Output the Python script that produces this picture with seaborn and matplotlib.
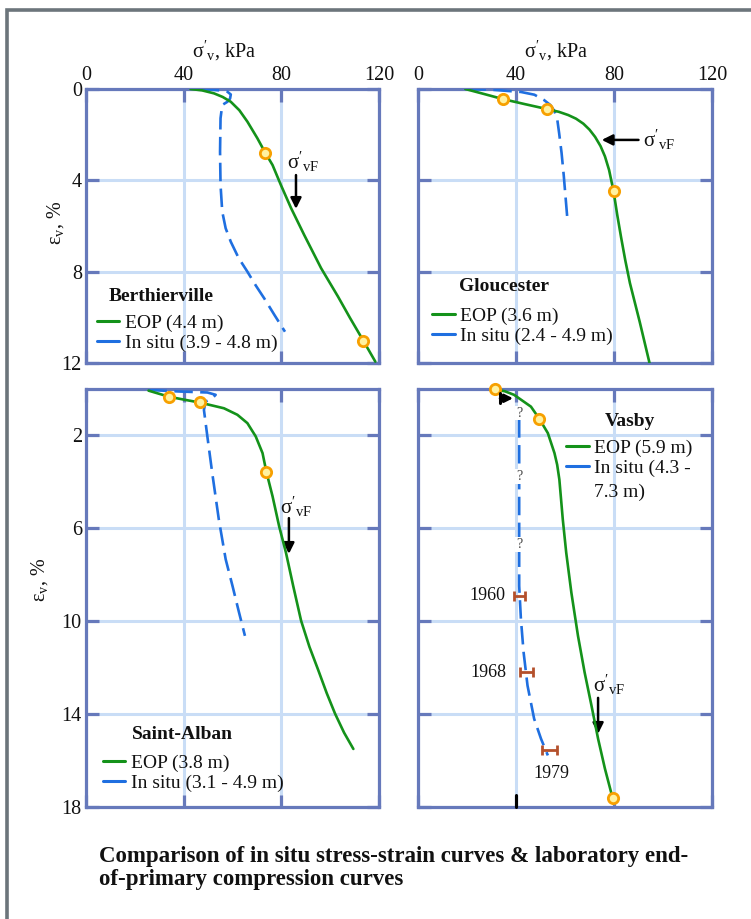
import numpy as np
import pandas as pd
import matplotlib
matplotlib.use("Agg")
import matplotlib.pyplot as plt
import seaborn as sns
from matplotlib.lines import Line2D
from matplotlib.patches import Rectangle

# ---------------- data ----------------
# Berthierville
bert_eop_x = [42.8, 47.5, 52.4, 56, 59.3, 62.8, 66.1, 70.2, 73.4, 76.4, 79.8, 84.0, 89.4, 96.3, 103.2, 108.2, 113.4, 118.5]
bert_eop_y = [0.0, 0.06, 0.19, 0.35, 0.56, 0.93, 1.43, 2.16, 2.79, 3.33, 4.2, 5.22, 6.4, 7.85, 9.09, 10.04, 10.99, 11.94]
bert_eop_mk_x = [73.4, 113.3]
bert_eop_mk_y = [2.79, 11.05]
bert_ins_x = [47.0, 52.3, 55.8, 57.9, 59.3, 59.0, 57.9, 55.8, 55.1, 54.9, 55.1, 55.8, 57.2, 59.3, 62.5, 66.1, 69.5, 73.0, 77.2, 81.5]
bert_ins_y = [0.0, 0.04, 0.07, 0.12, 0.24, 0.42, 0.56, 0.7, 1.28, 2.75, 4.2, 5.37, 6.1, 6.69, 7.4, 8.0, 8.6, 9.17, 9.9, 10.63]

# Gloucester
glo_eop_x = [19.3, 27, 34.6, 43.5, 52.7, 57.5, 61.3, 64.5, 67.5, 70, 72.3, 74.5, 76.3, 78, 79.8, 81.3, 82.9, 84.6, 86.5, 88.5, 90.5, 92.5, 94.5]
glo_eop_y = [0.0, 0.22, 0.44, 0.66, 0.88, 1.0, 1.14, 1.3, 1.52, 1.78, 2.1, 2.5, 2.95, 3.55, 4.47, 5.5, 6.5, 7.5, 8.5, 9.35, 10.2, 11.1, 12.0]
glo_eop_mk_x = [34.6, 52.7, 79.8]
glo_eop_mk_y = [0.44, 0.88, 4.47]
glo_ins_x = [20.2, 31, 42, 47.5, 51.4, 54, 55.6, 56.8, 57.6, 58.6, 59.5, 60.9]
glo_ins_y = [0.0, 0.04, 0.13, 0.25, 0.48, 0.7, 0.95, 1.3, 1.93, 2.8, 3.8, 5.6]

# Saint-Alban
sta_eop_x = [25.6, 33.9, 40.2, 46.5, 56.5, 62.0, 66.1, 69.5, 72.3, 73.9, 76.4, 79.1, 81.9, 84.9, 88.1, 91.5, 95.1, 98.6, 102.0, 105.7, 109.5]
sta_eop_y = [0.07, 0.33, 0.46, 0.58, 0.83, 1.11, 1.47, 2.04, 2.76, 3.58, 4.62, 5.91, 7.05, 8.5, 9.98, 11.1, 12.1, 13.1, 13.98, 14.8, 15.5]
sta_eop_mk_x = [33.9, 46.5, 73.9]
sta_eop_mk_y = [0.33, 0.58, 3.58]
sta_ins_x = [25.6, 38.7, 49.7, 53.1, 51.7, 49.0, 48.3, 49.7, 51.7, 54.4, 57.2, 60.0, 62.5, 65.1]
sta_ins_y = [0.04, 0.11, 0.15, 0.25, 0.4, 0.54, 0.9, 2.04, 3.62, 5.62, 7.33, 8.48, 9.55, 10.63]

# Vasby
vas_eop_x = [31.3, 35.5, 39.2, 46.1, 49.5, 53.0, 55.7, 56.8, 57.7, 58.4, 59.1, 60.5, 62.6, 65.3, 68.0, 70.8, 73.5, 76.3, 79.4]
vas_eop_y = [0.01, 0.1, 0.25, 0.76, 1.28, 1.9, 2.76, 3.26, 3.9, 4.76, 5.62, 7.05, 8.77, 10.63, 12.2, 13.63, 15.06, 16.35, 17.6]
vas_eop_mk_x = [31.3, 49.5, 79.4]
vas_eop_mk_y = [0.01, 1.28, 17.6]
vas_ins_x = [41.3, 41.3, 41.3, 41.3, 42.0, 43.1, 44.7, 47.4, 50.2, 53.0]
vas_ins_y = [1.3, 4.0, 7.0, 8.48, 9.9, 11.34, 12.77, 14.2, 15.06, 15.78]
vas_years = ["1960", "1968", "1979"]
vas_year_x = [41.5, 44.2, 53.7]
vas_year_y = [8.91, 12.2, 15.53]
vas_year_err = [2.3, 2.55, 3.1]
vas_q_y = [1.04, 3.76, 6.69]

top_xticks = [0, 40, 80, 120]
top_yticks = [0, 4, 8, 12]
bot_yticks = [2, 6, 10, 14, 18]

# ---------------- style ----------------
sns.set_theme(style="white")
plt.rcParams["font.family"] = ["Liberation Serif", "DejaVu Serif"]
plt.rcParams["mathtext.fontset"] = "custom"
plt.rcParams["mathtext.rm"] = "Liberation Serif"
plt.rcParams["mathtext.it"] = "Liberation Serif:italic"
plt.rcParams["mathtext.bf"] = "Liberation Serif:bold"

GREEN = "#14921a"
BLUE = "#1f6fe0"
SPINE = "#6679bb"
GRID = "#c9ddf6"
ORANGE = "#f7a000"
FILL = "#fff2a0"
BROWN = "#b4502c"
TXT = "#111111"
FS = 14

W, H = 751, 919
fig = plt.figure(figsize=(W / 100, H / 100), dpi=100)


def px_axes(l, t, r, b):
    return fig.add_axes([l / W, 1 - b / H, (r - l) / W, (b - t) / H])


ax_tl = px_axes(86, 89, 379, 363)
ax_tr = px_axes(418, 89, 712, 363)
ax_bl = px_axes(86, 389, 379, 807)
ax_br = px_axes(418, 389, 712, 807)

sigma_lbl = r"$\mathregular{σ'_v}$, kPa"
eps_lbl = r"$\mathregular{ε_v}$, %"
vf_lbl = r"$\mathregular{σ'_{vF}}$"


def style_axes(ax, ymax, yticks, top, left, ylab_x=None, ylab_y=0.5):
    ax.set_xlim(0, 120)
    ax.set_ylim(ymax, 0)
    ax.set_xticks(top_xticks)
    ax.set_yticks(yticks)
    ax.set_axisbelow(True)
    ax.grid(True, color=GRID, lw=2.2)
    for s in ax.spines.values():
        s.set_visible(True)
        s.set_color(SPINE)
        s.set_linewidth(2.3)
    ax.tick_params(axis="both", which="both", direction="in", length=9, width=2.3,
                   color=SPINE, top=True, bottom=True, left=True, right=True,
                   labeltop=top, labelbottom=False, labelleft=left, labelright=False,
                   labelsize=FS + 0.5, pad=3, labelcolor=TXT)
    if top:
        ax.xaxis.set_label_position("top")
        ax.set_xlabel(sigma_lbl, fontsize=FS + 0.5, color=TXT)
        ax.xaxis.set_label_coords(0.47, 1.0 + 32 / 274)
    else:
        ax.set_xlabel("")
    if left:
        ax.set_ylabel(eps_lbl, fontsize=FS + 0.5, color=TXT)
        ax.yaxis.set_label_coords(ylab_x, ylab_y)
    else:
        ax.set_ylabel("")


def curves(ax, ex, ey, mx, my, ix, iy):
    sns.lineplot(x=ix, y=iy, sort=False, estimator=None, ax=ax, color=BLUE, lw=1.9,
                 linestyle=(0, (7, 2.8)), zorder=3)
    sns.lineplot(x=ex, y=ey, sort=False, estimator=None, ax=ax, color=GREEN, lw=1.9, zorder=4)
    sns.scatterplot(x=mx, y=my, ax=ax, s=55, color=FILL, edgecolor=ORANGE, linewidth=2.0,
                    zorder=6, clip_on=False)


def legend(ax, title, tx, ty, lx, ly, eop, insitu):
    ax.text(tx, ty, title, fontsize=FS, fontweight="bold", ha="left", va="center", color=TXT)
    hs = [Line2D([], [], color=GREEN, lw=2.2), Line2D([], [], color=BLUE, lw=2.2)]
    lg = ax.legend(hs, [eop, insitu], loc="center left", bbox_to_anchor=(lx, ly),
                   bbox_transform=ax.transData, frameon=False, fontsize=FS,
                   handlelength=1.15, handletextpad=0.3, labelspacing=0.12,
                   borderpad=0, borderaxespad=0)
    for t in lg.get_texts():
        t.set_color(TXT)


def vf_arrow(ax, tx, ty, x0, y0, x1, y1):
    ax.text(tx, ty, vf_lbl, fontsize=FS + 1, ha="left", va="center", color=TXT)
    ax.annotate("", xy=(x1, y1), xytext=(x0, y0),
                arrowprops=dict(arrowstyle="-|>", color="black", lw=1.8, mutation_scale=16,
                                shrinkA=0, shrinkB=0))


# Top-left: Berthierville
style_axes(ax_tl, 12, top_yticks, True, True, ylab_x=-20 / 293, ylab_y=1 - (223 - 89) / 274)
curves(ax_tl, bert_eop_x, bert_eop_y, bert_eop_mk_x, bert_eop_mk_y, bert_ins_x, bert_ins_y)
legend(ax_tl, "Berthierville", 9.1, 9.07, 4.5, 10.7, "EOP (4.4 m)", "In situ (3.9 - 4.8 m)")
vf_arrow(ax_tl, 82.3, 3.2, 86.0, 3.77, 86.0, 5.25)

# Top-right: Gloucester
style_axes(ax_tr, 12, top_yticks, True, False)
curves(ax_tr, glo_eop_x, glo_eop_y, glo_eop_mk_x, glo_eop_mk_y, glo_ins_x, glo_ins_y)
legend(ax_tr, "Gloucester", 16.9, 8.67, 5.8, 10.4, "EOP (3.6 m)", "In situ (2.4 - 4.9 m)")
vf_arrow(ax_tr, 92.0, 2.23, 90.0, 2.23, 75.0, 2.23)

# Bottom-left: Saint-Alban
style_axes(ax_bl, 18, bot_yticks, False, True, ylab_x=-36 / 293, ylab_y=1 - (580 - 389) / 418)
curves(ax_bl, sta_eop_x, sta_eop_y, sta_eop_mk_x, sta_eop_mk_y, sta_ins_x, sta_ins_y)
legend(ax_bl, "Saint-Alban", 18.8, 14.88, 7.0, 16.53, "EOP (3.8 m)", "In situ (3.1 - 4.9 m)")
vf_arrow(ax_bl, 79.4, 5.08, 83.1, 5.56, 83.1, 7.1)

# Bottom-right: Vasby
style_axes(ax_br, 18, bot_yticks, False, False)
curves(ax_br, vas_eop_x, vas_eop_y, vas_eop_mk_x, vas_eop_mk_y, vas_ins_x, vas_ins_y)
legend(ax_br, "Vasby", 76.1, 1.4, 60.5, 2.99, "EOP (5.9 m)", "In situ (4.3 -")
ax_br.text(72.0, 4.45, "7.3 m)", fontsize=FS, ha="left", va="center", color=TXT)
vf_arrow(ax_br, 71.4, 12.75, 73.5, 13.3, 73.5, 14.85)
ax_br.errorbar(vas_year_x, vas_year_y, xerr=vas_year_err, fmt="none", ecolor=BROWN,
               elinewidth=2.0, capsize=3.5, capthick=2.0, zorder=5)
ax_br.text(vas_year_x[0] - 5.7, vas_year_y[0], vas_years[0], fontsize=FS - 1, ha="right", va="center", color=TXT)
ax_br.text(vas_year_x[1] - 8.0, vas_year_y[1], vas_years[1], fontsize=FS - 1, ha="right", va="center", color=TXT)
ax_br.text(vas_year_x[2] + 0.6, vas_year_y[2] + 1.03, vas_years[2], fontsize=FS - 1, ha="center", va="center", color=TXT)
for qy in vas_q_y:
    ax_br.text(vas_ins_x[0], qy, "?", fontsize=10, color="#444444", ha="center", va="center",
               zorder=4, bbox=dict(boxstyle="square,pad=0.05", fc="white", ec="none"))
# stress marker at top of Vasby curve
ax_br.plot([33.5, 33.5], [0.18, 0.62], color="black", lw=2.2, zorder=7)
ax_br.annotate("", xy=(38.8, 0.4), xytext=(33.5, 0.4),
               arrowprops=dict(arrowstyle="-|>", color="black", lw=2.0, mutation_scale=12,
                               shrinkA=0, shrinkB=0), zorder=7)
ax_br.plot([40, 40], [17.5, 18], color="black", lw=2.2, zorder=7, clip_on=False)

# Figure border (gray frame at left and top)
fig.patches.append(Rectangle((7 / W, -0.1), 1.2, 1.1 - 10 / H, transform=fig.transFigure,
                             fill=False, ec="#6c757b", lw=2.6, zorder=0))

fig.text(99 / W, 1 - 862 / H,
         "Comparison of in situ stress-strain curves & laboratory end-",
         fontsize=16.5, fontweight="bold", ha="left", va="baseline", color=TXT)
fig.text(99 / W, 1 - 885 / H, "of-primary compression curves",
         fontsize=16.5, fontweight="bold", ha="left", va="baseline", color=TXT)

fig.savefig("out.png", dpi=100)
